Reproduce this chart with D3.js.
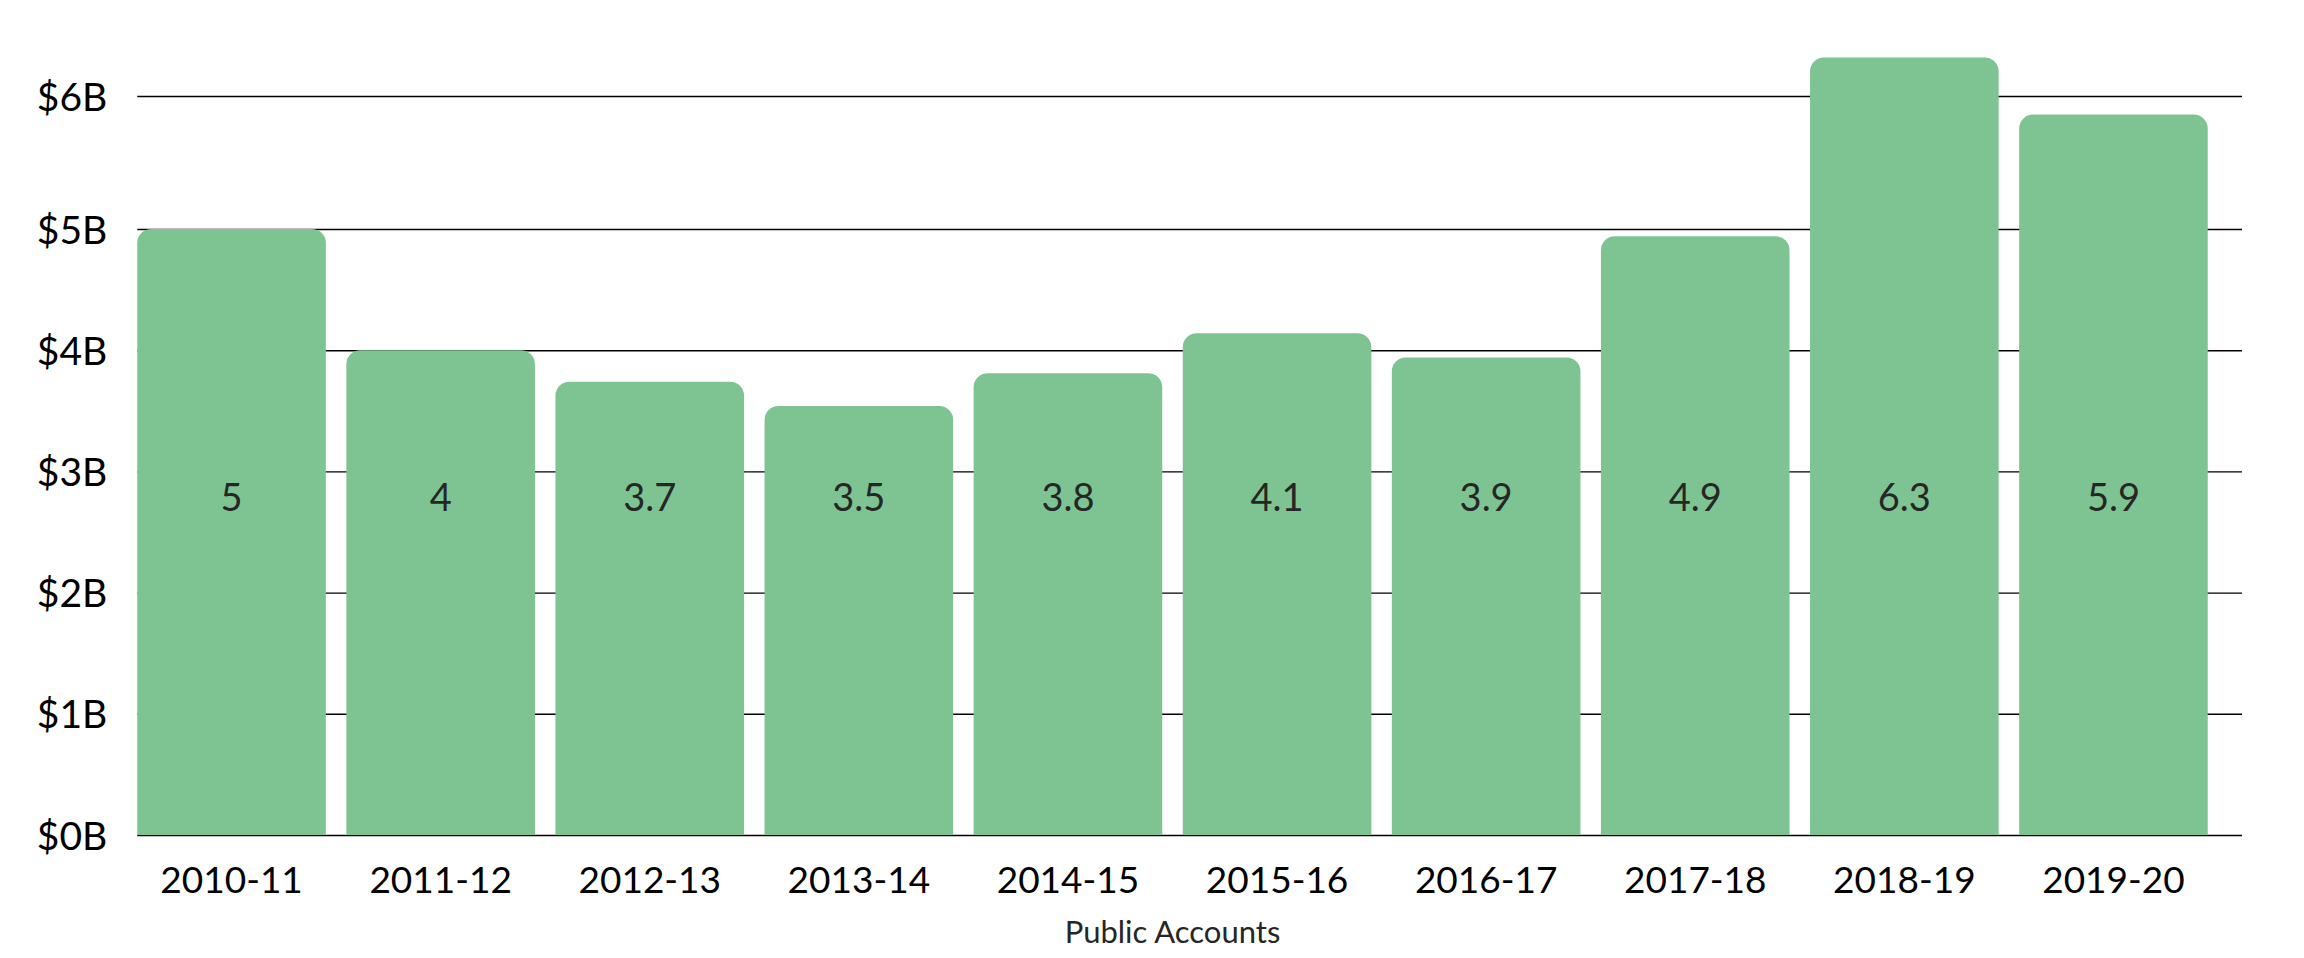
<!DOCTYPE html>
<html><head><meta charset="utf-8">
<script src="https://cdn.jsdelivr.net/npm/d3@7"></script>
<style>
body{margin:0;background:#fff;}
text{font-family:Lato,"Open Sans",sans-serif;}
</style>
</head><body>
<svg id="chart" width="2304" height="958"></svg>
<script>
// ---- data ----
const categories = ["2010-11","2011-12","2012-13","2013-14","2014-15","2015-16","2016-17","2017-18","2018-19","2019-20"];
const values = [5.0, 4.0, 3.74, 3.54, 3.81, 4.14, 3.94, 4.94, 6.29, 5.86];
const yTickValues = [0, 1, 2, 3, 4, 5, 6];
const yTickLabels = ["$0B","$1B","$2B","$3B","$4B","$5B","$6B"];
const xTitle = "Public Accounts";

// ---- layout ----
const W = 2304, H = 958;
const svg = d3.select("#chart");
svg.append("rect").attr("width", W).attr("height", H).attr("fill", "#fff");

const x = d3.scaleBand().domain(categories).range([127, 2218]).paddingInner(0.098).paddingOuter(0.049);
const y = d3.scaleLinear().domain([0, 5, 6]).range([835, 229, 96]);
const gridLeft = x(categories[0]);
const gridRight = 2242;
const barColor = "#7ec492";

// y axis + gridlines
const yAxis = svg.append("g")
  .attr("transform", `translate(${gridLeft},0)`)
  .call(d3.axisLeft(y).tickValues(yTickValues)
    .tickFormat((d, i) => yTickLabels[i])
    .tickSize(-(gridRight - gridLeft)).tickPadding(30));
yAxis.select(".domain").remove();
yAxis.selectAll(".tick line").attr("stroke", "#000").attr("stroke-width", 1.4);
yAxis.selectAll(".tick text").attr("font-size", 39).attr("fill", "#000").attr("dy", "0.36em");

// bars with rounded tops
function roundedTop(x0, y0, w, h, r) {
  r = Math.min(r, h, w / 2);
  return `M${x0},${y0 + h}V${y0 + r}A${r},${r} 0 0 1 ${x0 + r},${y0}H${x0 + w - r}A${r},${r} 0 0 1 ${x0 + w},${y0 + r}V${y0 + h}Z`;
}
svg.append("g").selectAll("path")
  .data(categories)
  .join("path")
  .attr("fill", barColor)
  .attr("d", (c, i) => roundedTop(x(c), y(values[i]), x.bandwidth(), y(0) - y(values[i]), 14));

// value labels
const fmt = d3.format(".1~f");
svg.append("g").selectAll("text")
  .data(categories)
  .join("text")
  .attr("x", c => x(c) + x.bandwidth() / 2)
  .attr("y", 511)
  .attr("text-anchor", "middle")
  .attr("font-size", 38)
  .attr("fill", "#262626")
  .text((c, i) => fmt(values[i]));

// x axis labels
const xAxis = svg.append("g")
  .attr("transform", `translate(0,${y(0)})`)
  .call(d3.axisBottom(x).tickSize(0).tickPadding(0));
xAxis.select(".domain").remove();
xAxis.selectAll(".tick text").attr("font-size", 37).attr("fill", "#000").attr("dy", 0).attr("y", 58);

// axis title
svg.append("text")
  .attr("x", (x.range()[0] + x.range()[1]) / 2)
  .attr("y", 943)
  .attr("text-anchor", "middle")
  .attr("font-size", 31)
  .attr("fill", "#262626")
  .text(xTitle);
</script>
</body></html>
